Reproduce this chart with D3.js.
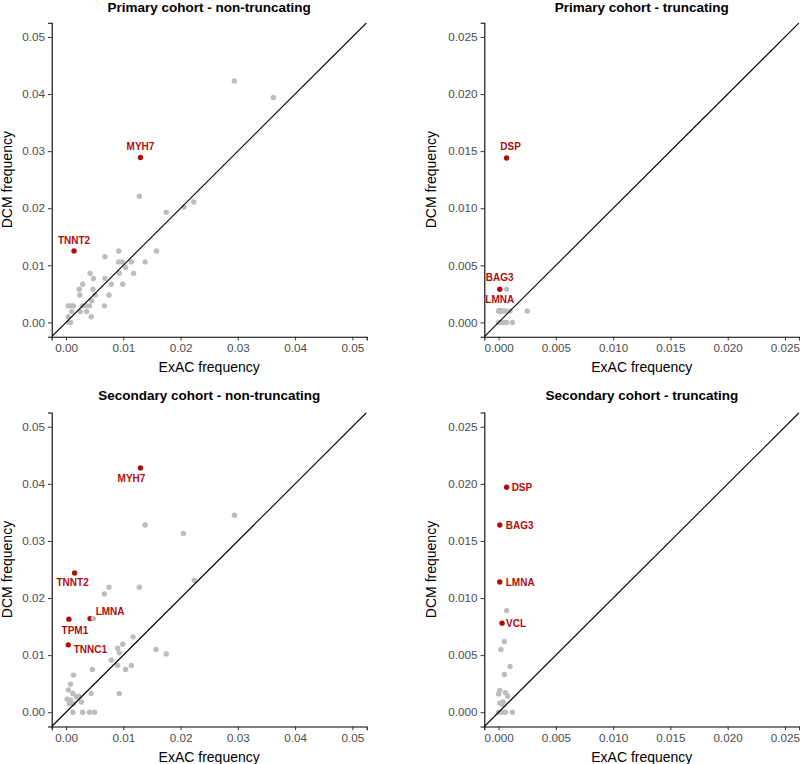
<!DOCTYPE html>
<html><head><meta charset="utf-8">
<script src="https://cdn.jsdelivr.net/npm/d3@7"></script>
<style>body{margin:0;background:#fff}svg{display:block}</style>
</head><body>
<svg id="chart" width="800" height="764"></svg>
<script>
// ---- data ----
const panelTitles = ["Primary cohort - non-truncating", "Primary cohort - truncating",
                     "Secondary cohort - non-truncating", "Secondary cohort - truncating"];
const axisXTitle = "ExAC frequency";
const axisYTitle = "DCM frequency";
const ticksNonTrunc = [0, 0.01, 0.02, 0.03, 0.04, 0.05];
const ticksTrunc = [0, 0.005, 0.01, 0.015, 0.02, 0.025];

// Primary non-truncating
const p1Exac = [0.0294,0.0362,0.0130,0.0128,0.0175,0.0206,0.0223,0.0014,0.0068,0.0092,0.0158,0.0092,0.0098,0.0114,0.0138,0.0104,0.0042,0.0093,0.0118,0.0048,0.0068,0.0029,0.0079,0.0099,0.0023,0.0047,0.0024,0.0051,0.0075,0.0045,0.0004,0.0008,0.0013,0.0029,0.0036,0.0041,0.0067,0.0010,0.0025,0.0036,0.0004,0.0044,0.0005,0.0008];
const p1Dcm  = [0.0423,0.0394,0.0289,0.0221,0.0193,0.0202,0.0211,0.0125,0.0115,0.0125,0.0125,0.0106,0.0106,0.0106,0.0106,0.0096,0.0086,0.0086,0.0086,0.0077,0.0077,0.0067,0.0067,0.0067,0.0058,0.0058,0.0048,0.0048,0.0048,0.0038,0.0029,0.0029,0.0029,0.0029,0.0029,0.0029,0.0029,0.0019,0.0019,0.0019,0.0010,0.0010,0.0000,0.0000];
const p1Gene = ["","","MYH7","","","","","TNNT2","","","","","","","","","","","","","","","","","","","","","","","","","","","","","","","","","","","",""];

// Primary truncating
const p2Exac = [0.0007,0.0001,0.0007,0.0001,0.0000,0.0002,0.0004,0.0006,0.0010,0.0025,0.0000,0.0002,0.0004,0.0007,0.0012];
const p2Dcm  = [0.0144,0.0029,0.0029,0.0010,0.0010,0.0010,0.0010,0.0010,0.0010,0.0010,0.0000,0.0000,0.0000,0.0000,0.0000];
const p2Gene = ["DSP","BAG3","","LMNA","","","","","","","","","","",""];

// Secondary non-truncating
const p3Exac = [0.0130,0.0294,0.0138,0.0205,0.0224,0.0015,0.0075,0.0067,0.0128,0.0042,0.0048,0.0005,0.0004,0.0117,0.0099,0.0090,0.0093,0.0157,0.0175,0.0079,0.0090,0.0114,0.0104,0.0046,0.0013,0.0008,0.0004,0.0012,0.0044,0.0093,0.0002,0.0008,0.0018,0.0023,0.0027,0.0006,0.0013,0.0012,0.0029,0.0041,0.0050];
const p3Dcm  = [0.0428,0.0345,0.0328,0.0313,0.0231,0.0244,0.0219,0.0207,0.0219,0.0164,0.0164,0.0163,0.0118,0.0132,0.0119,0.0112,0.0104,0.0110,0.0102,0.0091,0.0082,0.0082,0.0075,0.0075,0.0065,0.0049,0.0039,0.0033,0.0033,0.0033,0.0023,0.0021,0.0027,0.0028,0.0018,0.0015,0.0015,0.0000,0.0000,0.0000,0.0000];
const p3Gene = ["MYH7","","","","","TNNT2","","","","LMNA","","TPM1","TNNC1","","","","","","","","","","","","","","","","","","","","","","","","","","","",""];

// Secondary truncating
const p4Exac = [0.0007,0.0001,0.0001,0.0007,0.0003,0.0005,0.0002,0.0010,0.0005,0.0001,0.0000,0.0006,0.0008,0.0001,0.0004,0.0003,0.0000,0.0003,0.0006,0.0012];
const p4Dcm  = [0.0197,0.0164,0.0114,0.0089,0.0078,0.0062,0.0055,0.0040,0.0033,0.0019,0.0016,0.0017,0.0014,0.0008,0.0009,0.0007,0.0000,0.0000,0.0000,0.0000];
const p4Gene = ["DSP","BAG3","LMNA","","VCL","","","","","","","","","","","","","","",""];

// ---- label placement (pixel offsets from point; anchor) ----
const labelPlace = {
  "0:MYH7": {dx:0, dy:-7, anchor:"middle"},
  "0:TNNT2": {dx:0, dy:-7, anchor:"middle"},
  "1:DSP": {dx:4, dy:-8, anchor:"middle"},
  "1:BAG3": {dx:0, dy:-8, anchor:"middle"},
  "1:LMNA": {dx:0, dy:-8, anchor:"middle"},
  "2:MYH7": {dx:-9, dy:14, anchor:"middle"},
  "2:TNNT2": {dx:-2, dy:13, anchor:"middle"},
  "2:LMNA": {dx:20, dy:-4, anchor:"middle"},
  "2:TPM1": {dx:6, dy:15, anchor:"middle"},
  "2:TNNC1": {dx:22, dy:8, anchor:"middle"},
  "3:DSP": {dx:5, dy:4, anchor:"start"},
  "3:BAG3": {dx:6, dy:4, anchor:"start"},
  "3:LMNA": {dx:6, dy:4, anchor:"start"},
  "3:VCL": {dx:4, dy:4, anchor:"start"}
};

const panels = [
  {title: panelTitles[0], xs: p1Exac, ys: p1Dcm, genes: p1Gene, ticks: ticksNonTrunc, max: 0.05, fmt: ".2f",
   box: {l: 51.7, t: 22.7, w: 315, h: 314}},
  {title: panelTitles[1], xs: p2Exac, ys: p2Dcm, genes: p2Gene, ticks: ticksTrunc, max: 0.025, fmt: ".3f",
   box: {l: 484.3, t: 22.7, w: 315, h: 314}},
  {title: panelTitles[2], xs: p3Exac, ys: p3Dcm, genes: p3Gene, ticks: ticksNonTrunc, max: 0.05, fmt: ".2f",
   box: {l: 51.7, t: 412.5, w: 315, h: 314}},
  {title: panelTitles[3], xs: p4Exac, ys: p4Dcm, genes: p4Gene, ticks: ticksTrunc, max: 0.025, fmt: ".3f",
   box: {l: 484.3, t: 412.5, w: 315, h: 314}}
];

const RED = "#b00d0d";
const GREY = "#bdbdbd";
const svg = d3.select("#chart");
const FONT = "'Liberation Sans', Arial, sans-serif";

panels.forEach((p, i) => {
  const b = p.box;
  const pad = p.max * 0.05;
  const x = d3.scaleLinear().domain([-pad, p.max + pad]).range([b.l, b.l + b.w]);
  const y = d3.scaleLinear().domain([-pad, p.max + pad]).range([b.t + b.h, b.t]);
  const g = svg.append("g");

  const clipId = "clip" + i;
  svg.append("clipPath").attr("id", clipId).append("rect")
    .attr("x", b.l).attr("y", b.t).attr("width", b.w).attr("height", b.h);

  // points: labelled (red) first, then grey on top
  const pts = p.xs.map((v, k) => ({x: v, y: p.ys[k], gene: p.genes[k]}));
  const red = pts.filter(d => d.gene);
  const grey = pts.filter(d => !d.gene);

  g.append("g").selectAll("circle").data(red).join("circle")
    .attr("cx", d => x(d.x)).attr("cy", d => y(d.y)).attr("r", 2.7).attr("fill", RED);
  g.append("g").selectAll("circle").data(grey).join("circle")
    .attr("cx", d => x(d.x)).attr("cy", d => y(d.y)).attr("r", 2.7).attr("fill", GREY);

  // identity line
  g.append("line").attr("clip-path", `url(#${clipId})`)
    .attr("x1", x(-pad)).attr("y1", y(-pad)).attr("x2", x(p.max + pad)).attr("y2", y(p.max + pad))
    .attr("stroke", "#000").attr("stroke-width", 1.1);

  // labels
  g.append("g").selectAll("text").data(red).join("text")
    .attr("x", d => x(d.x) + labelPlace[i + ":" + d.gene].dx)
    .attr("y", d => y(d.y) + labelPlace[i + ":" + d.gene].dy)
    .attr("text-anchor", d => labelPlace[i + ":" + d.gene].anchor)
    .attr("font-family", FONT).attr("font-weight", "bold").attr("font-size", 10)
    .attr("fill", RED).text(d => d.gene);

  // axes
  const fmt = d3.format(p.fmt);
  const xAxis = g.append("g").attr("transform", `translate(0,${b.t + b.h})`)
    .call(d3.axisBottom(x).tickValues(p.ticks).tickFormat(fmt).tickSize(3.7).tickPadding(3));
  const yAxis = g.append("g").attr("transform", `translate(${b.l},0)`)
    .call(d3.axisLeft(y).tickValues(p.ticks).tickFormat(fmt).tickSize(3.7).tickPadding(3));
  [xAxis, yAxis].forEach(a => {
    a.select(".domain").attr("stroke", "#000").attr("stroke-width", 1.1);
    a.selectAll(".tick line").attr("stroke", "#333").attr("stroke-width", 1);
    a.selectAll(".tick text").attr("fill", "#4d4d4d").attr("font-size", 11.7).attr("font-family", FONT);
  });

  // titles
  g.append("text").attr("x", b.l + b.w / 2).attr("y", Math.max(b.t - 12.5, 12))
    .attr("text-anchor", "middle").attr("font-family", FONT).attr("font-weight", "bold")
    .attr("font-size", 13.5).attr("fill", "#000").text(p.title);
  g.append("text").attr("x", b.l + b.w / 2).attr("y", b.t + b.h + 35)
    .attr("text-anchor", "middle").attr("font-family", FONT)
    .attr("font-size", 14).attr("fill", "#000").text(axisXTitle);
  const yOff = i % 2 === 0 ? 40 : 48;
  g.append("text")
    .attr("transform", `translate(${b.l - yOff},${b.t + b.h / 2}) rotate(-90)`)
    .attr("text-anchor", "middle").attr("font-family", FONT)
    .attr("font-size", 14).attr("fill", "#000").text(axisYTitle);
});
</script>
</body></html>
